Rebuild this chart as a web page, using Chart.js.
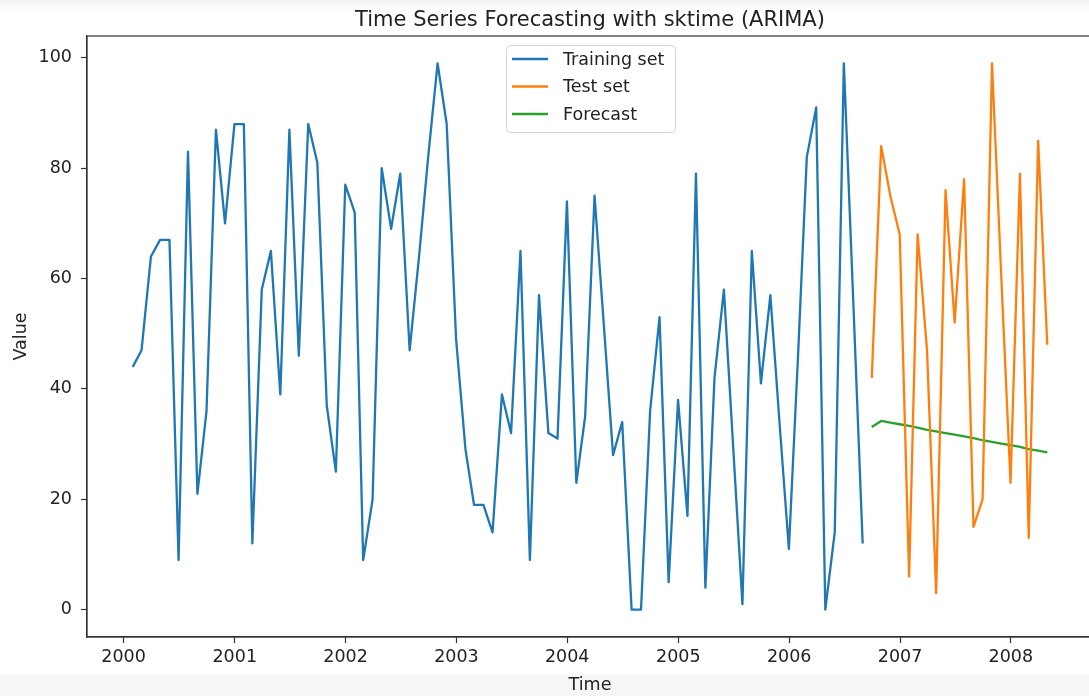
<!DOCTYPE html>
<html>
<head>
<meta charset="utf-8">
<script src="https://cdn.jsdelivr.net/npm/chart.js@4.4.1/dist/chart.umd.min.js"></script>
<style>
  html, body { margin: 0; padding: 0; overflow: hidden; width: 1089px; height: 696px;
    background: linear-gradient(to bottom, #f2f2f2 0px, #fafafa 6px, #ffffff 11px, #ffffff 673px, #f6f6f6 676px, #f6f6f6 696px); }
  #wrap { position: absolute; left: 0; top: 0; width: 1100px; height: 696px; }
</style>
</head>
<body>
<div id="wrap"><canvas id="c"></canvas></div>
<script>
// ---- data ----
const titleText = "Time Series Forecasting with sktime (ARIMA)";
const xAxisLabel = "Time";
const yAxisLabel = "Value";
const seriesNames = ["Training set", "Test set", "Forecast"];

// monthly series, month-end dates
const trainStart = [2000, 1];   // Jan 2000
const testStart  = [2006, 9];   // Sep 2006

const trainValues = [
  44, 47, 64, 67, 67, 9, 83, 21, 36, 87, 70, 88,
  88, 12, 58, 65, 39, 87, 46, 88, 81, 37, 25, 77,
  72, 9, 20, 80, 69, 79, 47, 64, 82, 99, 88, 49,
  29, 19, 19, 14, 39, 32, 65, 9, 57, 32, 31, 74,
  23, 35, 75, 52, 28, 34, 0, 0, 36, 53, 5, 38,
  17, 79, 4, 42, 58, 30, 1, 65, 41, 57, 34, 11,
  47, 82, 91, 0, 14, 99, 56, 12
];
const testValues = [
  42, 84, 75, 68, 6, 68, 47, 3, 76, 52, 78, 15, 20, 99, 61, 23, 79, 13, 85, 48
];
const forecastValues = [
  33.1, 34.2, 33.9, 33.6, 33.3, 33.0, 32.6, 32.3, 32.0, 31.7,
  31.4, 31.1, 30.7, 30.4, 30.1, 29.8, 29.5, 29.1, 28.8, 28.5
];

const xTickYears = [2000, 2001, 2002, 2003, 2004, 2005, 2006, 2007, 2008];
const xTickLabels = ["2000", "2001", "2002", "2003", "2004", "2005", "2006", "2007", "2008"];
const yTickValues = [0, 20, 40, 60, 80, 100];
const yTickLabels = ["0", "20", "40", "60", "80", "100"];

const colors = ["#1f77b4", "#ff7f0e", "#2ca02c"];

// ---- helpers ----
function monthEnds(start, n) {
  const out = [];
  for (let i = 0; i < n; i++) {
    const m = start[1] - 1 + i;           // 0-based month index
    const y = start[0] + Math.floor(m / 12);
    const mm = m % 12;
    out.push(Date.UTC(y, mm + 1, 0));     // last day of that month
  }
  return out;
}
const trainDates = monthEnds(trainStart, trainValues.length);
const testDates = monthEnds(testStart, testValues.length);
const toPts = (d, v) => d.map((x, i) => ({ x: x, y: v[i] }));

const allX = trainDates.concat(testDates);
const xMin0 = Math.min(...allX), xMax0 = Math.max(...allX);
const xSpan = xMax0 - xMin0;
const allY = trainValues.concat(testValues, forecastValues);
const yMin0 = Math.min(...allY), yMax0 = Math.max(...allY);
const ySpan = yMax0 - yMin0;

const FONT = "'DejaVu Sans', 'Liberation Sans', sans-serif";
const TXT = "#222";

const framePlugin = {
  id: 'frameAndText',
  afterDraw(chart) {
    const ctx = chart.ctx, a = chart.chartArea;
    ctx.save();
    // spines
    ctx.strokeStyle = "#333";
    ctx.lineWidth = 1.2;
    ctx.strokeRect(a.left, a.top, a.right - a.left, a.bottom - a.top);
    // title
    ctx.fillStyle = TXT;
    ctx.font = "21px " + FONT;
    ctx.textAlign = "center";
    ctx.textBaseline = "alphabetic";
    const cx = (a.left + a.right) / 2;
    ctx.fillText(titleText, cx, 26);
    // x axis label
    ctx.font = "17.5px " + FONT;
    ctx.fillText(xAxisLabel, cx, 690);
    // y axis label
    ctx.save();
    ctx.translate(26, (a.top + a.bottom) / 2);
    ctx.rotate(-Math.PI / 2);
    ctx.fillText(yAxisLabel, 0, 0);
    ctx.restore();
    // legend
    const lx = 506, ly = 45, lw = 169, lh = 87;
    ctx.beginPath();
    if (ctx.roundRect) ctx.roundRect(lx + 0.5, ly + 0.5, lw, lh, 4); else ctx.rect(lx + 0.5, ly + 0.5, lw, lh);
    ctx.fillStyle = "rgba(255,255,255,0.8)";
    ctx.fill();
    ctx.strokeStyle = "#d6d6d6";
    ctx.lineWidth = 1;
    ctx.stroke();
    ctx.font = "17.5px " + FONT;
    ctx.textAlign = "left";
    ctx.textBaseline = "middle";
    chart.data.datasets.forEach((ds, i) => {
      const yy = ly + 14 + i * 27.5;
      ctx.strokeStyle = ds.borderColor;
      ctx.lineWidth = 2.3;
      ctx.beginPath();
      ctx.moveTo(lx + 6, yy);
      ctx.lineTo(lx + 42, yy);
      ctx.stroke();
      ctx.fillStyle = TXT;
      ctx.fillText(ds.label, lx + 57, yy + 1);
    });
    ctx.restore();
  }
};

new Chart(document.getElementById('c'), {
  type: 'line',
  data: {
    datasets: [
      { label: seriesNames[0], data: toPts(trainDates, trainValues), borderColor: colors[0], backgroundColor: colors[0] },
      { label: seriesNames[1], data: toPts(testDates, testValues), borderColor: colors[1], backgroundColor: colors[1] },
      { label: seriesNames[2], data: toPts(testDates, forecastValues), borderColor: colors[2], backgroundColor: colors[2] }
    ]
  },
  options: {
    responsive: true,
    maintainAspectRatio: false,
    animation: false,
    devicePixelRatio: 1,
    layout: { padding: { left: 0, top: 36, right: 7, bottom: 0 } },
    elements: {
      line: { borderWidth: 2.3, tension: 0, borderJoinStyle: 'round', borderCapStyle: 'butt' },
      point: { radius: 0, hoverRadius: 0 }
    },
    plugins: { legend: { display: false }, title: { display: false }, tooltip: { enabled: false } },
    scales: {
      x: {
        type: 'linear',
        min: xMin0 - 0.05 * xSpan,
        max: xMax0 + 0.05 * xSpan,
        afterBuildTicks(s) { s.ticks = xTickYears.map(y => ({ value: Date.UTC(y, 0, 1) })); },
        afterFit(s) { s.height = 59; },
        grid: { display: true, drawOnChartArea: false, drawTicks: true, tickLength: 6, tickColor: "#333", tickWidth: 1.2 },
        border: { display: true, color: "#333", width: 1.2 },
        ticks: {
          autoSkip: false, maxRotation: 0, padding: 4,
          color: TXT, font: { family: FONT, size: 17.5 },
          callback: (v, i) => xTickLabels[i]
        }
      },
      y: {
        type: 'linear',
        min: yMin0 - 0.05 * ySpan,
        max: yMax0 + 0.05 * ySpan,
        afterBuildTicks(s) { s.ticks = yTickValues.map(v => ({ value: v })); },
        afterFit(s) { s.width = 87; },
        grid: { display: true, drawOnChartArea: false, drawTicks: true, tickLength: 6, tickColor: "#333", tickWidth: 1.2 },
        border: { display: true, color: "#333", width: 1.2 },
        ticks: {
          padding: 9,
          color: TXT, font: { family: FONT, size: 17.5 },
          callback: (v, i) => yTickLabels[i]
        }
      }
    }
  },
  plugins: [framePlugin]
});
</script>
</body>
</html>
